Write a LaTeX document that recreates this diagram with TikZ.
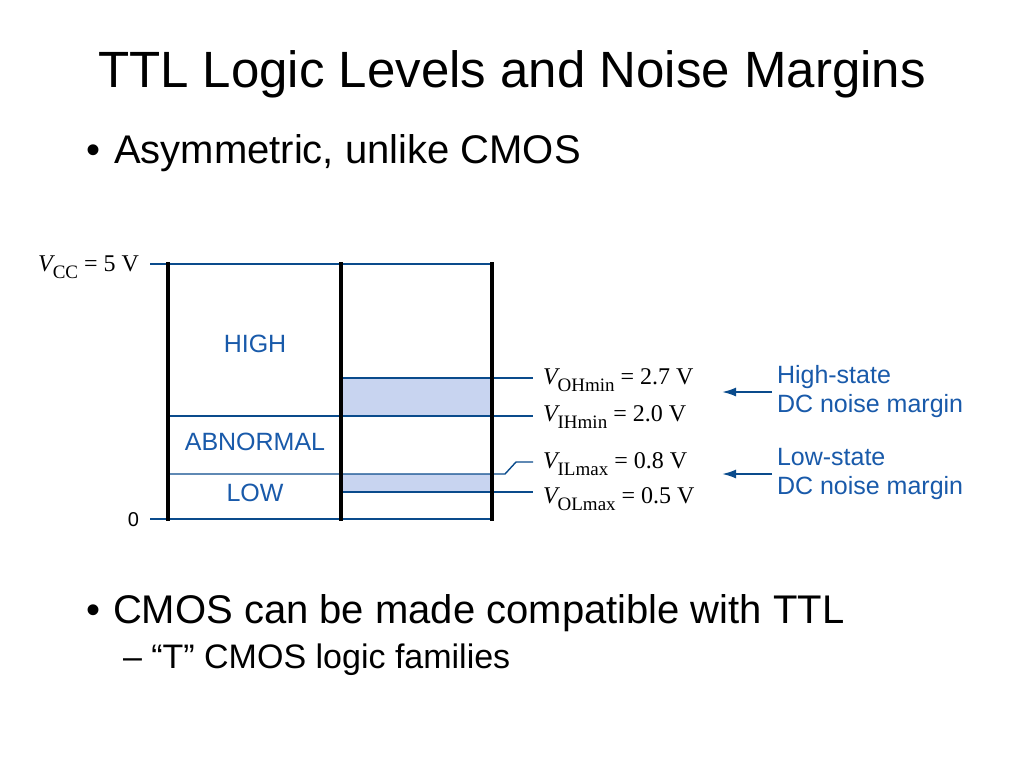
\documentclass[tikz,border=0pt]{standalone}
\usepackage{fontspec}
\setmainfont{Liberation Sans}
\newfontfamily\serifw{Liberation Serif}
\usetikzlibrary{arrows.meta}
\definecolor{lineblue}{RGB}{10,75,140}
\definecolor{textblue}{RGB}{25,90,170}
\definecolor{shadeblue}{RGB}{200,212,240}
\newcommand{\volt}[3]{{\serifw\fontsize{24}{26}\selectfont\itshape #1}\raisebox{-7pt}{\serifw\fontsize{19}{20}\selectfont #2}{\serifw\fontsize{24}{26}\selectfont\ = #3}}
\begin{document}
\begin{tikzpicture}[x=1pt,y=-1pt,
  every node/.style={inner sep=0pt, outer sep=0pt},
  level/.style={draw=lineblue, line width=1.4pt},
  bar/.style={draw=black, line width=4pt},
  zone/.style={text=textblue, font=\fontsize{25}{27}\selectfont},
  vlabel/.style={anchor=base west},
  margin/.style={text=textblue, font=\fontsize{25}{29}\selectfont, align=left, anchor=west},
  marrow/.style={draw=lineblue, line width=2pt, -{Latex[length=14pt,width=9pt]}},
  bigtext/.style={anchor=base west, font=\fontsize{40}{44}\selectfont},
  subtext/.style={anchor=base west, font=\fontsize{34}{38}\selectfont}]
\useasboundingbox (0,0) rectangle (1024,768);
\fill[white] (0,0) rectangle (1024,768);

% title and bullets
\node[anchor=base west, font=\fontsize{51}{60}\selectfont] (title) at (98,87) {TTL Logic Levels and Noise Margins};
\node[bigtext] (bul1) at (86,163) {\textbullet};
\node[bigtext] (txt1) at (114,163) {Asymmetric, unlike CMOS};
\node[bigtext] (bul2) at (86,623) {\textbullet};
\node[bigtext] (txt2) at (113,623) {CMOS can be made compatible with TTL};
\node[subtext] (txt3) at (123,668) {– “T” CMOS logic families};

% shaded noise margin bands
\fill[shadeblue] (343,378) rectangle (490,416);
\fill[shadeblue] (343,474) rectangle (490,492);

% level line ends
\coordinate (topL) at (150,264);
\coordinate (topR) at (492,264);
\coordinate (botL) at (150,519);
\coordinate (botR) at (492,519);
\coordinate (ohS) at (341,378);
\coordinate (ohE) at (533,378);
\coordinate (ihS) at (168,416);
\coordinate (ihE) at (533,416);
\coordinate (ilS) at (168,474);
\coordinate (ilK) at (505,474);
\coordinate (ilJ) at (516,462);
\coordinate (ilE) at (533,462);
\coordinate (olS) at (341,492);
\coordinate (olE) at (533,492);

\draw[level] (topL) -- (topR);
\draw[level] (botL) -- (botR);
\draw[level] (ohS) -- (ohE);
\draw[level] (ihS) -- (ihE);
\draw[level] (ilS) -- (ilK) -- (ilJ) -- (ilE);
\draw[level] (olS) -- (olE);

% vertical bars
\coordinate (b1t) at (168,262); \coordinate (b1b) at (168,521);
\coordinate (b2t) at (341,262); \coordinate (b2b) at (341,521);
\coordinate (b3t) at (492,262); \coordinate (b3b) at (492,521);
\draw[bar] (b1t) -- (b1b);
\draw[bar] (b2t) -- (b2b);
\draw[bar] (b3t) -- (b3b);

% zone labels
\node[zone] (high) at (255,344) {HIGH};
\node[zone] (abn) at (255,442) {ABNORMAL};
\node[zone] (low) at (255,493) {LOW};

% axis labels
\node[anchor=base east] (vcc) at (139,271) {\volt{V}{CC}{5 V}};
\node[anchor=east, font=\fontsize{20}{22}\selectfont] (zero) at (139,520) {0};

% voltage labels
\node[vlabel] (voh) at (543,384) {\volt{V}{OHmin}{2.7 V}};
\node[vlabel] (vih) at (543,421) {\volt{V}{IHmin}{2.0 V}};
\node[vlabel] (vil) at (543,468) {\volt{V}{ILmax}{0.8 V}};
\node[vlabel] (vol) at (543,503) {\volt{V}{OLmax}{0.5 V}};

% noise margin labels and arrows
\node[margin] (hsm) at (777,392) {High-state\\DC noise margin};
\node[margin] (lsm) at (777,474) {Low-state\\DC noise margin};
\coordinate (hsa) at (722,392);
\coordinate (lsa) at (722,474);
\draw[marrow] ([xshift=-5pt]hsm.west) -- (hsa);
\draw[marrow] ([xshift=-5pt]lsm.west) -- (lsa);
\end{tikzpicture}
\end{document}
